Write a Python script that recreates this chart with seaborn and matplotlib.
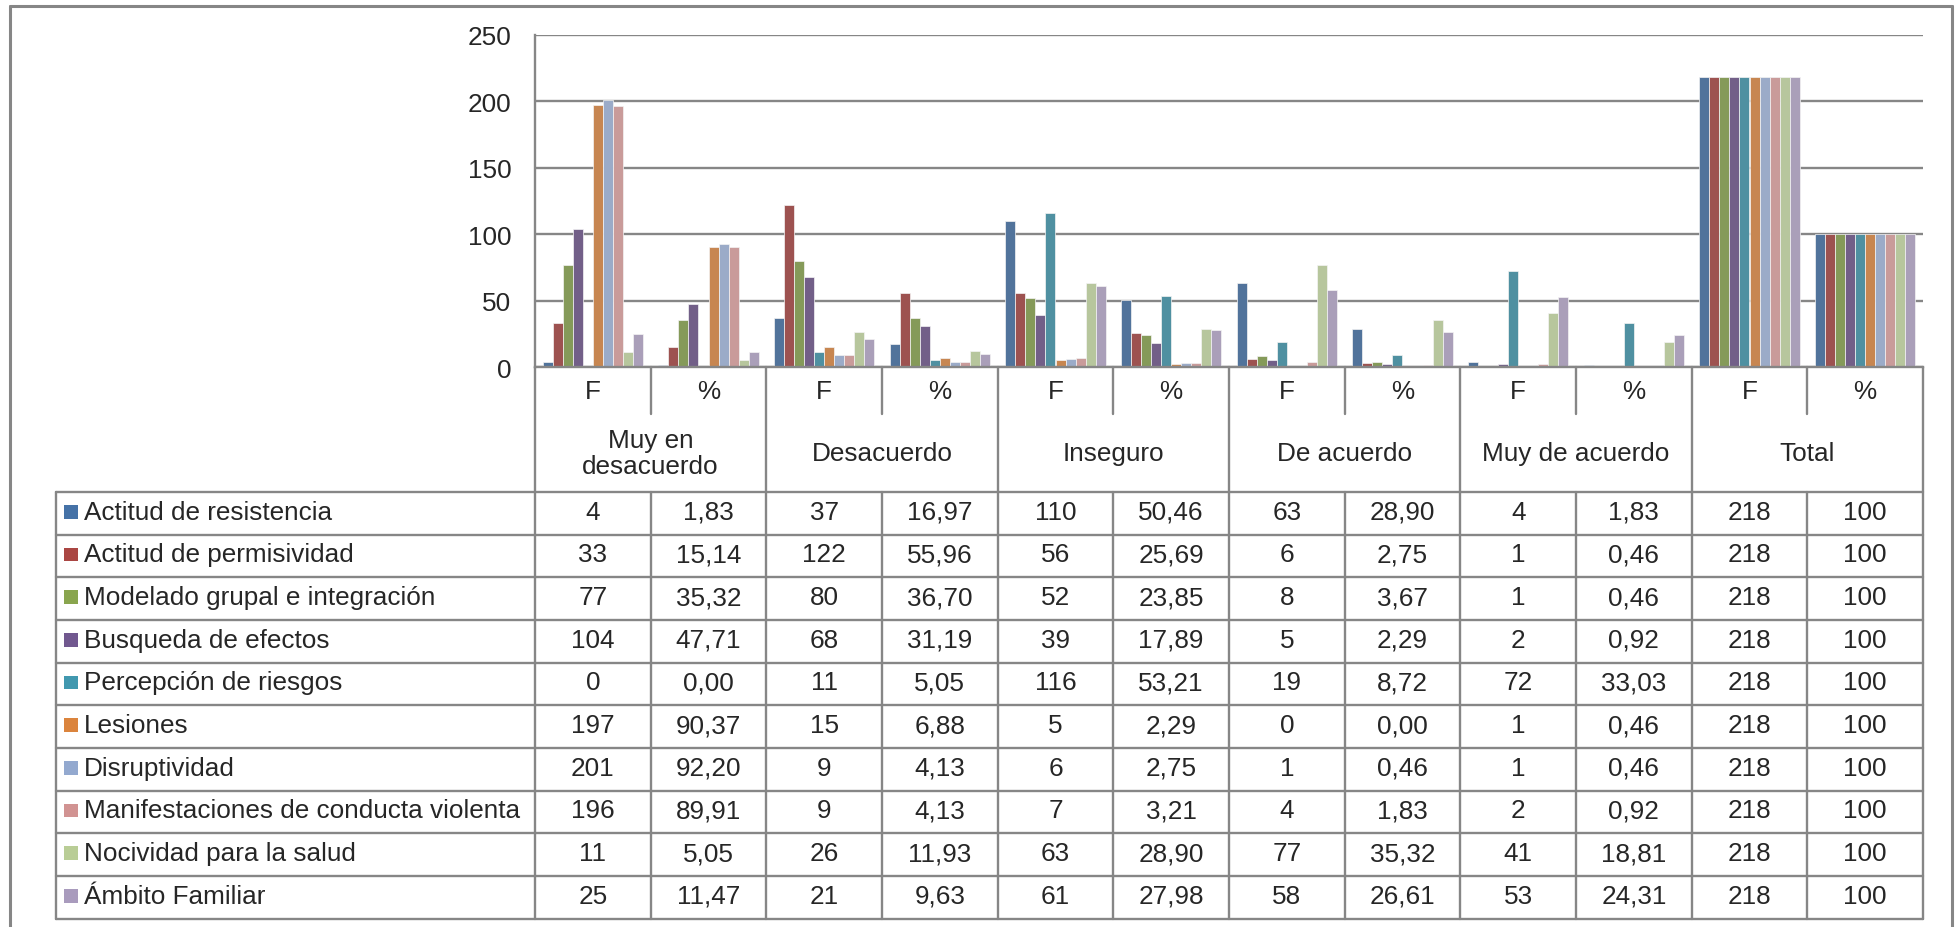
import matplotlib
matplotlib.use("Agg")
import matplotlib.pyplot as plt
import numpy as np
import pandas as pd
import seaborn as sns
from matplotlib.patches import Rectangle

# ---- data -------------------------------------------------------------
groups = ["Muy en\ndesacuerdo", "Desacuerdo", "Inseguro", "De acuerdo",
          "Muy de acuerdo", "Total"]
measures = ["F", "%"]

series_names = [
    "Actitud de resistencia",
    "Actitud de permisividad",
    "Modelado grupal e integración",
    "Busqueda de efectos",
    "Percepción de riesgos",
    "Lesiones",
    "Disruptividad",
    "Manifestaciones de conducta violenta",
    "Nocividad para la salud",
    "Ámbito Familiar",
]

series_colors = ["#4572A7", "#AA4643", "#89A54E", "#71588F", "#4198AF",
                 "#DB843D", "#93A9CF", "#D19392", "#B9CD96", "#A99BBD"]

# frequencies per response group (last entry = Total)
freq = [
    [4, 37, 110, 63, 4, 218],
    [33, 122, 56, 6, 1, 218],
    [77, 80, 52, 8, 1, 218],
    [104, 68, 39, 5, 2, 218],
    [0, 11, 116, 19, 72, 218],
    [197, 15, 5, 0, 1, 218],
    [201, 9, 6, 1, 1, 218],
    [196, 9, 7, 4, 2, 218],
    [11, 26, 63, 77, 41, 218],
    [25, 21, 61, 58, 53, 218],
]

# percentages per response group (last entry = Total)
pct = [
    [1.83, 16.97, 50.46, 28.90, 1.83, 100],
    [15.14, 55.96, 25.69, 2.75, 0.46, 100],
    [35.32, 36.70, 23.85, 3.67, 0.46, 100],
    [47.71, 31.19, 17.89, 2.29, 0.92, 100],
    [0.00, 5.05, 53.21, 8.72, 33.03, 100],
    [90.37, 6.88, 2.29, 0.00, 0.46, 100],
    [92.20, 4.13, 2.75, 0.46, 0.46, 100],
    [89.91, 4.13, 3.21, 1.83, 0.92, 100],
    [5.05, 11.93, 28.90, 35.32, 18.81, 100],
    [11.47, 9.63, 27.98, 26.61, 24.31, 100],
]

y_ticks = [0, 50, 100, 150, 200, 250]

# ---- long-form table for seaborn --------------------------------------
columns = []
for gi in range(len(groups)):
    for m in measures:
        columns.append(f"{gi}{m}")

rows = []
for si, name in enumerate(series_names):
    for gi in range(len(groups)):
        rows.append({"col": f"{gi}F", "serie": name, "valor": freq[si][gi]})
        rows.append({"col": f"{gi}%", "serie": name, "valor": pct[si][gi]})
df = pd.DataFrame(rows)


def fmt_cell(v, gi, measure):
    if measure == "F" or groups[gi] == "Total":
        return f"{v:g}"
    return f"{v:.2f}".replace(".", ",")


# ---- figure & style ---------------------------------------------------
sns.set_style("white")
plt.rcParams["font.family"] = ["Liberation Sans", "DejaVu Sans"]

W, H = 1959, 928
fig = plt.figure(figsize=(W / 100, H / 100), dpi=100)
fig.patch.set_facecolor("white")

LINE = "#868686"
FS = 18.8

plot_l, plot_r = 535, 1923
plot_t, plot_b = 35.7, 368
row_f_b = 415
grp_b = 493
row_h = 42.65
leg_l = 56
n_cols = len(columns)
col_w = (plot_r - plot_l) / n_cols
table_b = grp_b + row_h * len(series_names)

ax = fig.add_axes([plot_l / W, 1 - plot_b / H,
                   (plot_r - plot_l) / W, (plot_b - plot_t) / H])
sns.barplot(data=df, x="col", y="valor", hue="serie", order=columns,
            hue_order=series_names, palette=series_colors, width=0.87,
            edgecolor="#f4f4f4", linewidth=0.5, legend=False, ax=ax,
            zorder=3)
ax.set_xlim(-0.5, n_cols - 0.5)
ax.set_ylim(0, 250)
ax.set_yticks(y_ticks)
ax.set_yticklabels([str(t) for t in y_ticks], fontsize=FS)
ax.tick_params(axis="y", length=0, pad=17)
ax.tick_params(axis="x", length=0, labelbottom=False)
ax.set_xlabel("")
ax.set_ylabel("")
ax.yaxis.grid(True, color=LINE, linewidth=1.7, zorder=0)
ax.set_axisbelow(True)
for s in ["top", "right"]:
    ax.spines[s].set_visible(False)
for s in ["left", "bottom"]:
    ax.spines[s].set_color(LINE)
    ax.spines[s].set_linewidth(1.7)
    ax.spines[s].set_zorder(5)

# ---- data table drawn in pixel coordinates ----------------------------
ov = fig.add_axes([0, 0, 1, 1])
ov.set_xlim(0, W)
ov.set_ylim(H, 0)
ov.axis("off")
ov.patch.set_visible(False)

lw = 1.7
# outer frame
ov.plot([10, 10], [7, H], color=LINE, lw=2.2)
ov.plot([10, 1952], [7, 7], color=LINE, lw=2.2)
ov.plot([1952, 1952], [7, H], color=LINE, lw=2.2)

# horizontal rules
ov.plot([leg_l, plot_r], [grp_b, grp_b], color=LINE, lw=lw)
for r in range(1, len(series_names) + 1):
    y = grp_b + r * row_h
    ov.plot([leg_l, plot_r], [y, y], color=LINE, lw=lw)

# vertical rules
ov.plot([leg_l, leg_l], [grp_b, table_b], color=LINE, lw=lw)
ov.plot([plot_l, plot_l], [plot_b, table_b], color=LINE, lw=lw)
for ci in range(1, n_cols + 1):
    x = plot_l + ci * col_w
    if ci % 2 == 0:
        ov.plot([x, x], [plot_b, table_b], color=LINE, lw=lw)
    else:
        ov.plot([x, x], [plot_b, row_f_b], color=LINE, lw=lw)
        ov.plot([x, x], [grp_b, table_b], color=LINE, lw=lw)

# header texts
for ci, key in enumerate(columns):
    xc = plot_l + (ci + 0.5) * col_w
    ov.text(xc, (plot_b + row_f_b) / 2 + 1, key[1:], ha="center",
            va="center", fontsize=FS)
for gi, g in enumerate(groups):
    xc = plot_l + (gi + 0.5) * 2 * col_w
    ov.text(xc, (row_f_b + grp_b) / 2, g, ha="center", va="center",
            fontsize=FS, linespacing=1.15)

# body rows
sq = 13.7
for si, name in enumerate(series_names):
    yc = grp_b + (si + 0.5) * row_h - 1.5
    ov.add_patch(Rectangle((64, yc - sq / 2), sq, sq,
                           facecolor=series_colors[si], edgecolor="none"))
    ov.text(84, yc, name, ha="left", va="center", fontsize=FS)
    for gi in range(len(groups)):
        for mi, m in enumerate(measures):
            ci = gi * 2 + mi
            v = freq[si][gi] if m == "F" else pct[si][gi]
            xc = plot_l + (ci + 0.5) * col_w
            ov.text(xc, yc, fmt_cell(v, gi, m), ha="center", va="center",
                    fontsize=FS)

fig.savefig("out.png", dpi=100, facecolor="white")
